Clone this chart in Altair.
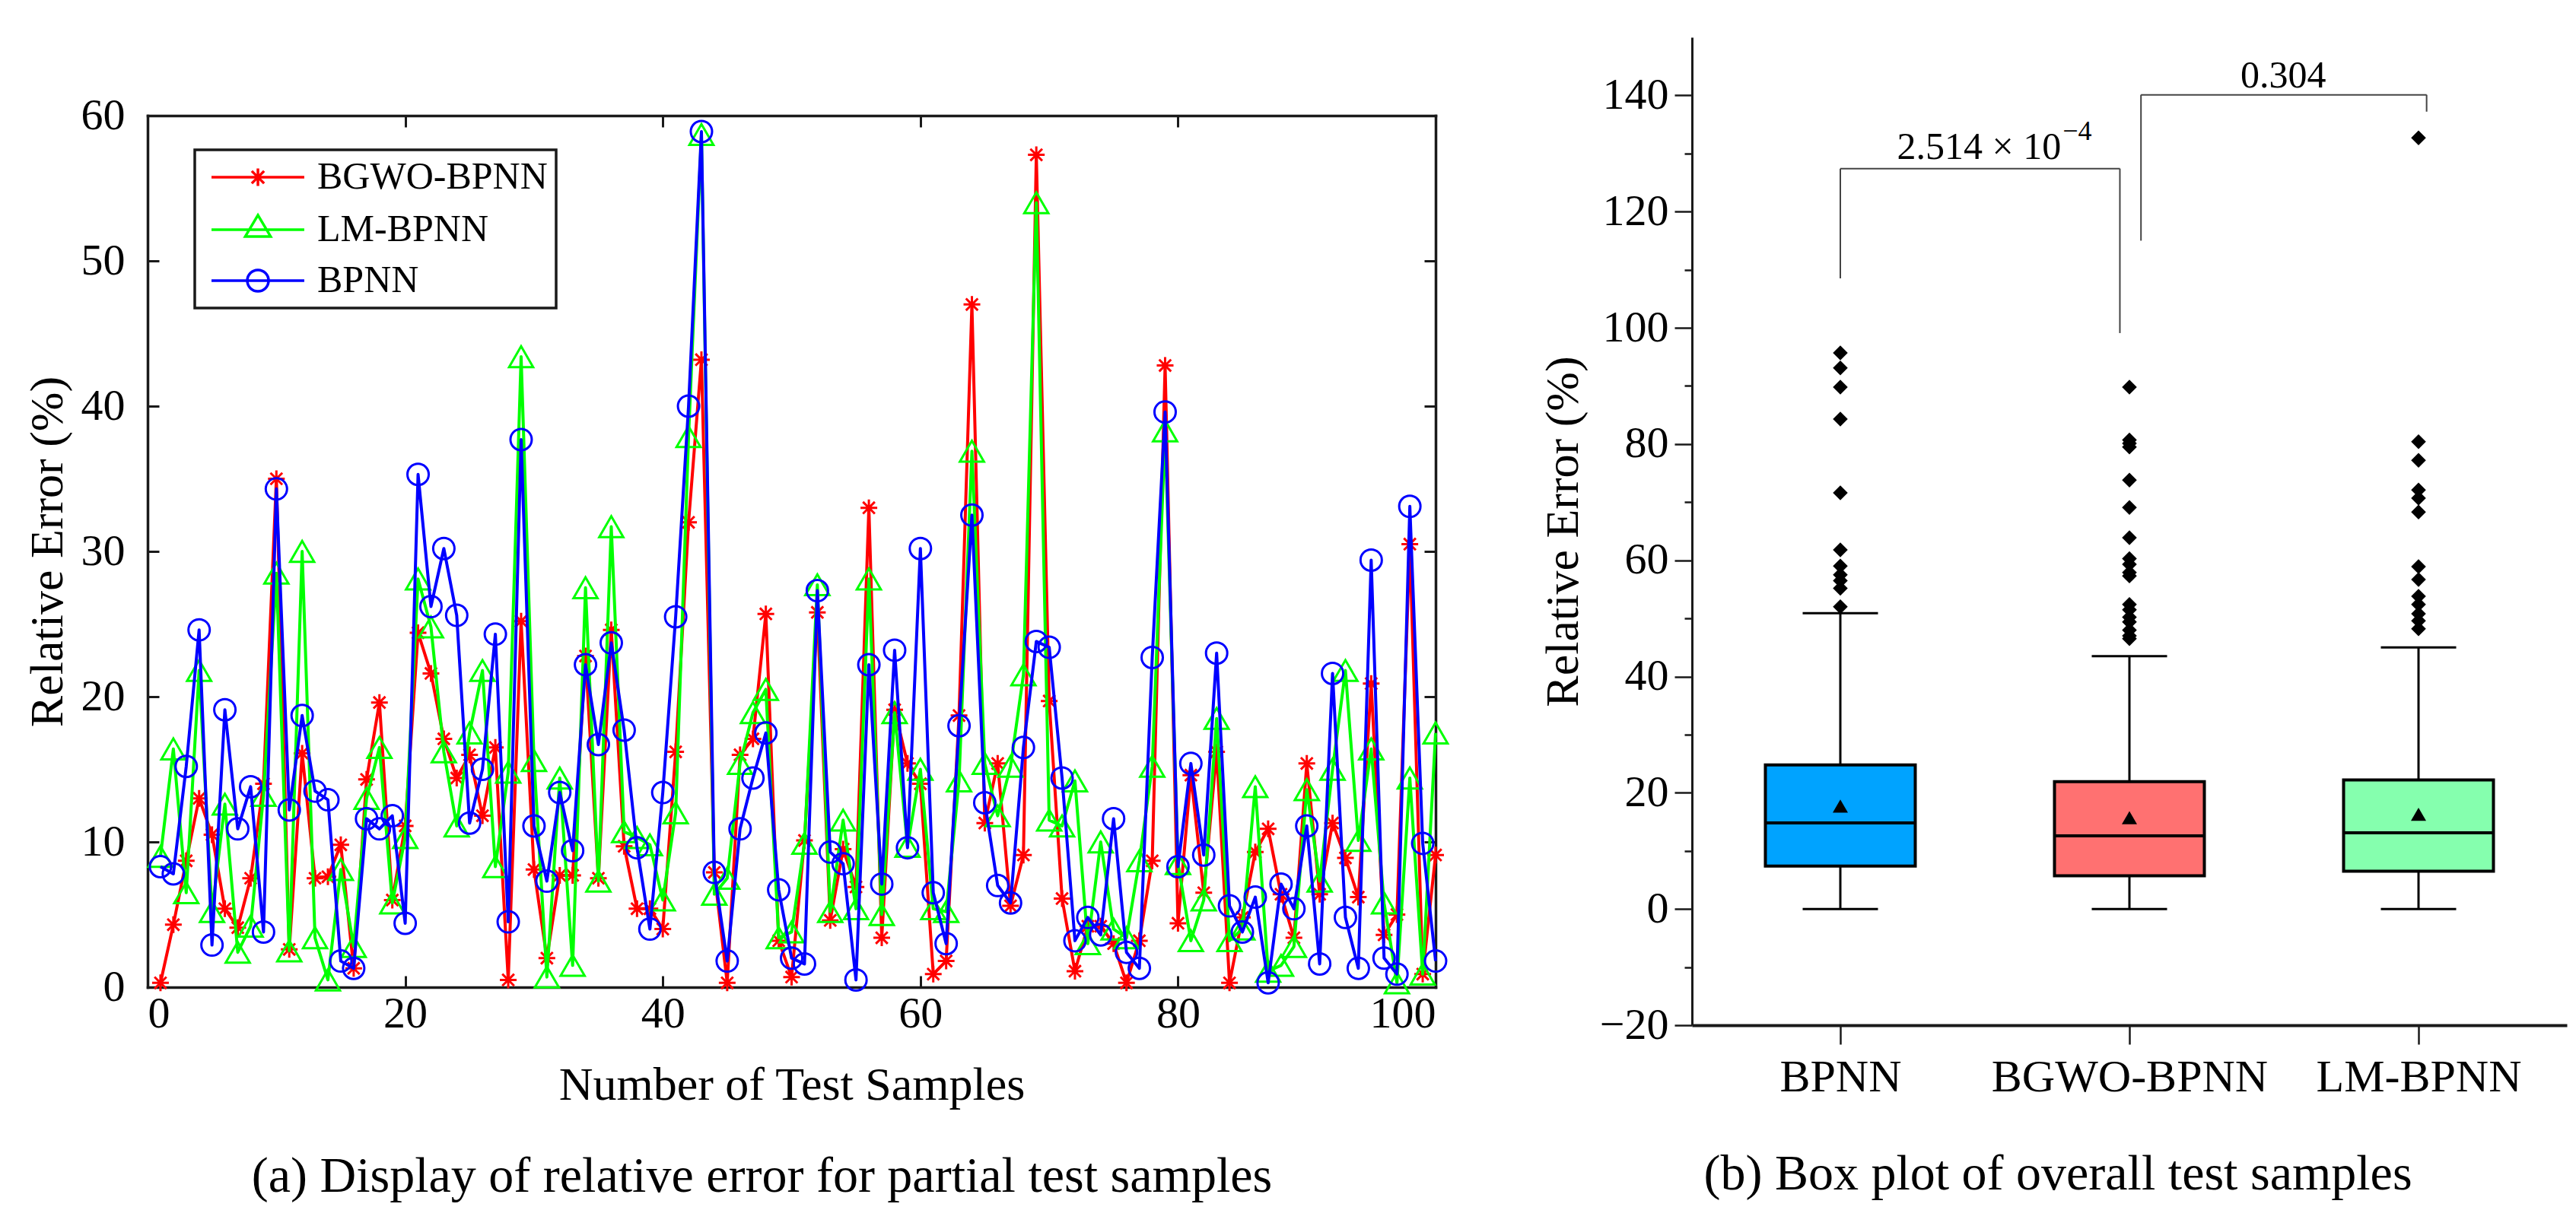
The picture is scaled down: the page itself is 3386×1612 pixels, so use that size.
import altair as alt
import pandas as pd

FONT = "Liberation Serif"
INK = "#1a1a1a"

# ---------------- (a) relative error of the first 100 test samples ----------------
samples = list(range(1, 101))

bgwo_bpnn = [0.3, 4.3, 8.7, 13.0, 10.5, 5.4, 4.1, 7.5, 14.0, 35.0,
             2.6, 16.1, 7.5, 7.6, 9.8, 1.3, 14.3, 19.6, 6.0, 11.1,
             24.4, 21.6, 17.1, 14.4, 16.0, 11.8, 16.5, 0.5, 25.2, 8.1,
             2.0, 7.7, 7.7, 22.8, 7.5, 24.6, 9.7, 5.4, 5.4, 4.0,
             16.2, 32.0, 43.2, 7.9, 0.3, 16.0, 17.1, 25.7, 3.2, 0.7,
             10.1, 25.8, 4.6, 9.5, 6.9, 33.0, 3.4, 19.1, 15.4, 14.0,
             0.9, 1.8, 18.7, 47.0, 11.3, 15.4, 5.6, 9.1, 57.3, 19.7,
             6.1, 1.1, 4.2, 4.2, 3.0, 0.3, 3.2, 8.7, 42.8, 4.4,
             14.6, 6.5, 16.2, 0.3, 4.8, 9.3, 10.9, 6.4, 3.4, 15.4,
             6.4, 11.3, 8.9, 6.2, 20.9, 3.6, 5.0, 30.5, 0.9, 9.1]

lm_bpnn = [9.0, 16.4, 6.5, 21.8, 5.2, 12.6, 2.4, 4.2, 13.2, 28.5,
           2.5, 30.0, 3.4, 0.5, 8.1, 2.8, 13.0, 16.5, 5.8, 10.3,
           28.1, 24.8, 16.2, 11.1, 17.5, 21.8, 8.3, 14.8, 43.4, 15.6,
           0.7, 14.4, 1.5, 27.5, 7.3, 31.7, 10.7, 10.3, 9.8, 6.0,
           12.0, 37.9, 58.7, 6.4, 7.5, 15.4, 18.9, 20.5, 3.4, 3.8,
           9.9, 27.7, 5.2, 11.5, 5.4, 28.1, 5.0, 18.9, 9.7, 15.0,
           5.4, 5.2, 14.2, 36.9, 15.4, 11.8, 15.2, 21.5, 54.0, 11.5,
           11.1, 14.2, 3.0, 10.0, 4.0, 3.4, 8.7, 15.2, 38.3, 8.5,
           3.2, 6.0, 18.5, 3.2, 4.0, 13.8, 1.1, 1.5, 2.8, 13.6,
           7.3, 15.0, 21.8, 10.1, 16.4, 5.8, 0.3, 14.4, 0.9, 17.5]

bpnn = [8.3, 7.8, 15.2, 24.6, 2.9, 19.1, 10.9, 13.8, 3.8, 34.3,
        12.2, 18.7, 13.5, 12.9, 1.8, 1.3, 11.6, 10.9, 11.8, 4.4,
        35.3, 26.2, 30.2, 25.6, 11.3, 15.0, 24.3, 4.5, 37.7, 11.1,
        7.3, 13.4, 9.4, 22.2, 16.7, 23.7, 17.7, 9.6, 4.0, 13.4,
        25.5, 40.0, 58.9, 7.9, 1.8, 10.9, 14.4, 17.5, 6.7, 2.0,
        1.6, 27.3, 9.3, 8.5, 0.5, 22.2, 7.1, 23.2, 9.6, 30.2,
        6.5, 3.0, 18.0, 32.5, 12.7, 7.0, 5.8, 16.5, 23.8, 23.4,
        14.4, 3.2, 4.8, 3.6, 11.6, 2.4, 1.3, 22.7, 39.6, 8.3,
        15.4, 9.1, 23.0, 5.6, 3.8, 6.2, 0.3, 7.1, 5.4, 11.1,
        1.6, 21.6, 4.8, 1.3, 29.4, 2.0, 0.9, 33.1, 9.9, 1.8]

series_names = ["BGWO-BPNN", "LM-BPNN", "BPNN"]
series_colors = ["#ff0000", "#00ff00", "#0000ff"]
x_ticks_a = [0, 20, 40, 60, 80, 100]
y_ticks_a = [0, 10, 20, 30, 40, 50, 60]

# marker glyphs (unit square paths)
ASTERISK = "M0,-1L0,1M-1,0L1,0M-0.71,-0.71L0.71,0.71M-0.71,0.71L0.71,-0.71"
# legend glyphs: a line segment with the marker in its middle
LEG_STAR = ("M-1,0L7.71,0M3.36,-0.82L3.36,0.82M2.78,-0.58L3.94,0.58"
            "M2.78,0.58L3.94,-0.58")
LEG_TRI = "M-1,0L7.71,0M3.36,-1.36L4.55,0.64L2.17,0.64Z"
LEG_CIRC = "M-1,0L7.71,0M2.36,0A1,1 0 1,0 4.36,0A1,1 0 1,0 2.36,0"


def series_frame(values, name):
    return pd.DataFrame({"sample": samples, "value": values, "series": name})


red_df = series_frame(bgwo_bpnn, "BGWO-BPNN")
green_df = series_frame(lm_bpnn, "LM-BPNN")
blue_df = series_frame(bpnn, "BPNN")
all_df = pd.concat([red_df, green_df, blue_df], ignore_index=True)

# plot area sits inside a taller cell so both panels share one grid row
x_a = alt.Scale(domain=[0, 100], nice=False, zero=False)
y_a = alt.Scale(domain=[0, 60], nice=False, zero=False, range=[1249, 103])

lbl = dict(labelFont=FONT, labelFontSize=58, labelColor="black", labelLimit=0)
ttl = dict(titleFont=FONT, titleFontSize=62, titleFontWeight="normal", titleColor="black")
tk = dict(tickColor=INK, tickWidth=3)
frame = dict(domain=True, domainColor=INK, domainWidth=3.5, domainCap="square",
             ticks=False, labels=False, title=None, grid=False)

ax_bottom = alt.Axis(orient="bottom", offset=-65, values=x_ticks_a, tickSize=15,
                     domain=False, grid=False, labelPadding=6,
                     title="Number of Test Samples", titlePadding=34, **lbl, **ttl, **tk)
ax_bottom_frame = alt.Axis(orient="bottom", offset=-50, **frame)
ax_top = alt.Axis(orient="top", offset=-118, values=x_ticks_a, tickSize=15,
                  domain=False, grid=False, labels=False, title=None, **tk)
ax_top_frame = alt.Axis(orient="top", offset=-103, **frame)

ax_left = alt.Axis(orient="left", offset=-15, values=y_ticks_a, tickSize=15,
                   domain=False, grid=False, labelPadding=30,
                   title="Relative Error (%)", titlePadding=12, **lbl, **ttl, **tk)
ax_left_frame = alt.Axis(orient="left", offset=0, **frame)
ax_right = alt.Axis(orient="right", offset=-15, values=y_ticks_a, tickSize=15,
                    domain=False, grid=False, labels=False, title=None, **tk)
ax_right_frame = alt.Axis(orient="right", offset=0, **frame)


def xa(axis):
    return alt.X("sample:Q", scale=x_a, axis=axis)


def ya(axis):
    return alt.Y("value:Q", scale=y_a, axis=axis)


def line_layer(df, color, ax_x, ax_y):
    return alt.Chart(df).mark_line(color=color, strokeWidth=4, strokeJoin="round").encode(
        x=xa(ax_x), y=ya(ax_y))


def point_layer(df, color, shape, size):
    return alt.Chart(df).mark_point(shape=shape, filled=False, size=size, strokeWidth=3,
                                    color=color, opacity=1).encode(x=xa(None), y=ya(None))


legend_a = alt.Legend(orient="none", legendX=62, legendY=148, title=None,
                      labelFont=FONT, labelFontSize=50, labelColor="black", labelLimit=0,
                      symbolSize=784, symbolStrokeWidth=3.5, labelOffset=100,
                      rowPadding=17, padding=11, strokeColor=INK, fillColor="white")

legend_layer = alt.Chart(all_df).transform_filter("false").mark_point(
    filled=False, size=784, strokeWidth=3.5, opacity=1).encode(
    x=xa(ax_top_frame), y=ya(ax_right_frame),
    color=alt.Color("series:N", scale=alt.Scale(domain=series_names, range=series_colors),
                    legend=legend_a),
    shape=alt.Shape("series:N", scale=alt.Scale(domain=series_names,
                                                range=[LEG_STAR, LEG_TRI, LEG_CIRC]),
                    legend=legend_a),
)

panel_a = alt.layer(
    line_layer(red_df, "#ff0000", ax_bottom, ax_left),
    point_layer(red_df, "#ff0000", ASTERISK, 484),
    line_layer(green_df, "#00ff00", ax_bottom_frame, ax_left_frame),
    point_layer(green_df, "#00ff00", "triangle-up", 1000),
    line_layer(blue_df, "#0000ff", ax_top, ax_right),
    point_layer(blue_df, "#0000ff", "circle", 784),
    legend_layer,
).resolve_axis(x="independent", y="independent").properties(
    width=1693, height=1299,
    title=alt.TitleParams("(a) Display of relative error for partial test samples",
                          orient="bottom", font=FONT, fontSize=66, fontWeight="normal",
                          color="black", offset=58, dx=-39),
)

# ---------------- (b) box plot of all test samples ----------------
models = ["BPNN", "BGWO-BPNN", "LM-BPNN"]
model_pos = [0, 1, 2]
box_fill = ["#00a3ff", "#ff7171", "#85ffae"]
q1 = [7.4, 5.7, 6.5]
median = [14.8, 12.6, 13.1]
q3 = [24.8, 21.9, 22.2]
whisker_low = [0.0, 0.0, 0.0]
whisker_high = [50.9, 43.5, 45.0]
mean = [17.7, 15.7, 16.3]

outliers_bpnn = [95.7, 93.1, 89.8, 84.3, 71.6, 61.8, 59.0, 57.5, 56.5, 55.2, 52.0]
outliers_bgwo = [89.8, 80.7, 80.1, 79.5, 73.8, 69.1, 63.9, 60.3, 59.3, 57.9, 57.3,
                 52.4, 51.5, 50.2, 49.4, 48.0, 47.0, 46.5]
outliers_lm = [132.7, 80.4, 77.2, 72.1, 70.7, 68.3, 58.9, 56.7, 53.8, 52.4, 50.8,
               49.6, 48.2]

# significance brackets between neighbouring models
bracket_left = [0.0, 1.04]
bracket_right = [0.967, 2.028]
bracket_top = [127.4, 140.1]
leg_left_bottom = [108.5, 115.0]
leg_right_bottom = [99.1, 137.2]

# p-values written as mantissa with a raised exponent
p_mantissa = ["2.514 × 10"]
p_exponent = ["−4"]
p_split_x = [0.764]
p_sci_y = [129.0]
p_plain = ["0.304"]
p_plain_x = [1.532]
p_plain_y = [141.4]

y_ticks_b = [-20, 0, 20, 40, 60, 80, 100, 120, 140]
y_minor_b = [-10, 10, 30, 50, 70, 90, 110, 130]

stats = pd.DataFrame({"pos": model_pos, "model": models, "q1": q1, "median": median,
                      "q3": q3, "low": whisker_low, "high": whisker_high, "mean": mean})
outliers = pd.DataFrame({
    "pos": [0] * len(outliers_bpnn) + [1] * len(outliers_bgwo) + [2] * len(outliers_lm),
    "value": outliers_bpnn + outliers_bgwo + outliers_lm,
})
brackets = pd.DataFrame({"xl": bracket_left, "xr": bracket_right, "top": bracket_top,
                         "bl": leg_left_bottom, "br": leg_right_bottom})
sci = pd.DataFrame({"x": p_split_x, "y": p_sci_y, "mant": p_mantissa, "exp": p_exponent})
plain = pd.DataFrame({"x": p_plain_x, "y": p_plain_y, "label": p_plain})

x_b = alt.Scale(domain=[-0.5, 2.5], nice=False, zero=False)
y_b = alt.Scale(domain=[-20, 150], nice=False, zero=False)

label_expr = "[" + ", ".join("'%s'" % m for m in models) + "][datum.value]"
ax_b_x = alt.Axis(values=model_pos, labelExpr=label_expr, tickSize=25, tickWidth=2.5,
                  tickColor=INK, domainColor=INK, domainWidth=4, grid=False,
                  labelFont=FONT, labelFontSize=60, labelColor="black", labelPadding=14,
                  labelLimit=0, title=None)
ax_b_y = alt.Axis(values=y_ticks_b, tickSize=23, tickWidth=2.5, tickColor=INK,
                  domainColor=INK, domainWidth=3, grid=False,
                  labelFont=FONT, labelFontSize=58, labelColor="black", labelPadding=8,
                  labelLimit=0, title="Relative Error (%)", titlePadding=16, **ttl)
ax_b_minor = alt.Axis(orient="left", values=y_minor_b, tickSize=10, tickWidth=2.5,
                      tickColor=INK, domain=False, labels=False, grid=False, title=None)


def xb(field, axis=None):
    return alt.X(field, scale=x_b, axis=axis)


def yb(field, axis=None):
    return alt.Y(field, scale=y_b, axis=axis)


base_stats = alt.Chart(stats)

whisk_lo = base_stats.mark_rule(color="black", strokeWidth=3).encode(
    x=xb("pos:Q"), y=yb("low:Q"), y2="q1:Q")
whisk_hi = base_stats.mark_rule(color="black", strokeWidth=3).encode(
    x=xb("pos:Q"), y=yb("q3:Q"), y2="high:Q")
cap_lo = base_stats.mark_tick(orient="horizontal", size=99, thickness=3, color="black",
                              opacity=1).encode(x=xb("pos:Q"), y=yb("low:Q"))
cap_hi = base_stats.mark_tick(orient="horizontal", size=99, thickness=3, color="black",
                              opacity=1).encode(x=xb("pos:Q"), y=yb("high:Q"))
boxes = base_stats.mark_bar(size=197, stroke="black", strokeWidth=4, opacity=1).encode(
    x=xb("pos:Q", ax_b_x), y=yb("q1:Q", ax_b_y), y2="q3:Q",
    color=alt.Color("model:N", scale=alt.Scale(domain=models, range=box_fill), legend=None))
medians = base_stats.mark_tick(orient="horizontal", size=197, thickness=4, color="black",
                               opacity=1).encode(x=xb("pos:Q"), y=yb("median:Q"))
means = base_stats.mark_point(shape="triangle-up", filled=True, size=400, color="black",
                              opacity=1).encode(x=xb("pos:Q"), y=yb("mean:Q"))
outlier_pts = alt.Chart(outliers).mark_point(shape="diamond", filled=True, size=380,
                                             color="black", opacity=1).encode(
    x=xb("pos:Q"), y=yb("value:Q", ax_b_minor))

bracket_style = dict(color="#444444", strokeWidth=2)
br_top = alt.Chart(brackets).mark_rule(**bracket_style).encode(
    x=xb("xl:Q"), x2="xr:Q", y=yb("top:Q"))
br_left = alt.Chart(brackets).mark_rule(**bracket_style).encode(
    x=xb("xl:Q"), y=yb("bl:Q"), y2="top:Q")
br_right = alt.Chart(brackets).mark_rule(**bracket_style).encode(
    x=xb("xr:Q"), y=yb("br:Q"), y2="top:Q")

text_style = dict(font=FONT, color="black", baseline="alphabetic")
sci_mant = alt.Chart(sci).mark_text(fontSize=50, align="right", **text_style).encode(
    x=xb("x:Q"), y=yb("y:Q"), text="mant:N")
sci_exp = alt.Chart(sci).mark_text(fontSize=36, align="left", dx=2, dy=-25,
                                   **text_style).encode(
    x=xb("x:Q"), y=yb("y:Q"), text="exp:N")
plain_lbl = alt.Chart(plain).mark_text(fontSize=50, align="center", **text_style).encode(
    x=xb("x:Q"), y=yb("y:Q"), text="label:N")

panel_b = alt.layer(
    whisk_lo, whisk_hi, cap_lo, cap_hi, boxes, medians, means, outlier_pts,
    br_top, br_left, br_right, sci_mant, sci_exp, plain_lbl,
).resolve_axis(x="independent", y="independent").properties(
    width=1150, height=1299,
    title=alt.TitleParams("(b) Box plot of overall test samples",
                          orient="bottom", font=FONT, fontSize=66, fontWeight="normal",
                          color="black", offset=66, dx=-94),
)

chart = alt.hconcat(panel_a, panel_b, spacing=337, bounds="flush").resolve_scale(
    color="independent", shape="independent"
).properties(
    padding={"left": 31, "top": 49, "right": 12, "bottom": 20},
    background="white",
).configure_view(stroke=None).configure_legend(strokeWidth=3.5)

chart.save("out.html", embed_options={"renderer": "svg", "actions": False})
